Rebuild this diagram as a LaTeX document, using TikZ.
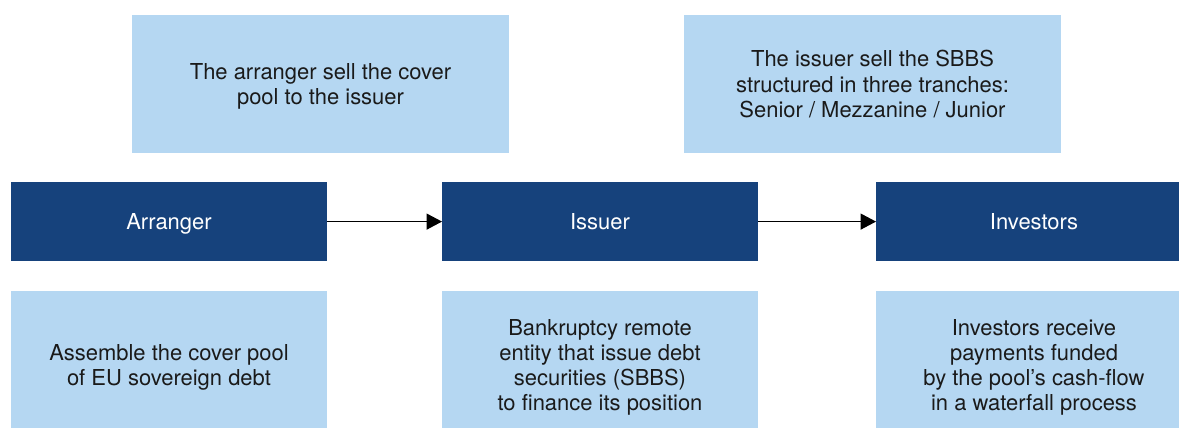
\documentclass[tikz,border=0pt]{standalone}
\usepackage{fontspec}
\setmainfont{TeX Gyre Heros}
\usepackage{tikz}
\usetikzlibrary{arrows.meta}
\definecolor{navy}{RGB}{22,66,124}
\definecolor{sky}{RGB}{181,215,242}
\definecolor{ink}{RGB}{26,26,26}
\tikzstyle{box}=[inner sep=0pt,outer sep=0pt,align=center,font=\fontsize{12.5}{14.4}\selectfont]
\tikzstyle{dark}=[box,fill=navy,text=white,text height=9pt,text depth=0pt,minimum width=6.32cm,minimum height=1.57cm]
\tikzstyle{note}=[box,fill=sky,text=ink,text depth=0pt,minimum width=7.54cm,minimum height=2.754cm]
\tikzstyle{role}=[box,fill=sky,text=ink,text depth=0pt,minimum width=6.32cm,minimum height=2.96cm]
\tikzstyle{feed}=[<-,>={Triangle[length=0.31cm,width=0.32cm]},line width=0.85pt]

\begin{document}
\begin{tikzpicture}[x=0.02cm,y=-0.02cm]
        \useasboundingbox (0,0) rectangle (1179,428);
        \node[note] (sellpool) at (320.5, 83.85) {The arranger sell the cover\\pool to the issuer}
        ;
        \node[note] (sellsbbs) at (872.5, 83.85) {The issuer sell the SBBS\\structured in three tranches:\\Senior / Mezzanine / Junior}
        ;
        \node[dark] (arranger) at (169, 221.6) {Arranger}
        ;
        \node[dark] (issuer) at (600, 221.6) {Issuer}
            edge[feed] (arranger)
        ;
        \node[dark] (investors) at (1034, 221.6) {Investors}
            edge[feed] (issuer)
        ;
        \node[role] (assemble) at (169, 365) {Assemble the cover pool\\of EU sovereign debt}
        ;
        \node[role] (remote) at (600, 365) {Bankruptcy remote\\entity that issue debt\\securities (SBBS)\\to finance its position}
        ;
        \node[role] (receive) at (1034, 365) {Investors receive\\payments funded\\by the pool’s cash-flow\\in a waterfall process}
        ;
    \end{tikzpicture}
\end{document}
